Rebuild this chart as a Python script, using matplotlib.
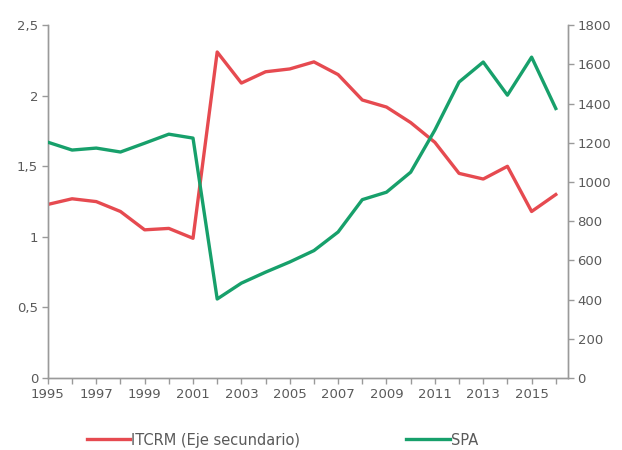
import matplotlib.pyplot as plt
from matplotlib.ticker import FuncFormatter

years = list(range(1995, 2017))
itcrm = [1.23, 1.27, 1.25, 1.18, 1.05, 1.06, 0.99, 2.31, 2.09, 2.17, 2.19, 2.24,
         2.15, 1.97, 1.92, 1.81, 1.67, 1.45, 1.41, 1.50, 1.18, 1.30]
spa = [1203, 1163, 1173, 1153, 1198, 1244, 1224, 403, 484, 540, 592, 650,
       745, 910, 948, 1050, 1265, 1510, 1612, 1443, 1637, 1375]

RED = '#e64a50'
GREEN = '#17a06b'
GRAY = '#5a5a5a'
SPINE = '#9a9a9a'

plt.rcParams['font.family'] = ['DejaVu Sans']

fig = plt.figure(figsize=(6.22, 4.5), dpi=100)
ax = fig.add_axes([0.077, 0.16, 0.836, 0.784])
ax2 = ax.twinx()

l1, = ax.plot(years, itcrm, color=RED, lw=2.4, label='ITCRM (Eje secundario)', zorder=3)
l2, = ax2.plot(years, spa, color=GREEN, lw=2.4, label='SPA', zorder=3)

ax.set_xlim(1995, 2016.5)
ax.set_ylim(0, 2.5)
ax2.set_ylim(0, 1800)
ax.set_yticks([0, 0.5, 1, 1.5, 2, 2.5])
ax2.set_yticks(range(0, 1801, 200))
ax.set_xticks(years)
ax.set_xticklabels([str(y) if (y - 1995) % 2 == 0 else '' for y in years])


def comma_fmt(v, pos):
    s = f'{v:g}'
    return s.replace('.', ',')


ax.yaxis.set_major_formatter(FuncFormatter(comma_fmt))

for a in (ax, ax2):
    a.spines['top'].set_visible(False)
    for s in ('left', 'right', 'bottom'):
        a.spines[s].set_color(SPINE)
        a.spines[s].set_linewidth(1.0)
    a.tick_params(colors=SPINE, labelcolor=GRAY, labelsize=9.5, length=4, width=1)

ax.tick_params(axis='x', pad=3)
ax.tick_params(axis='y', pad=3)
ax2.tick_params(axis='y', pad=3)

fig.legend([l1, l2], ['ITCRM (Eje secundario)', 'SPA'], loc='center',
           bbox_to_anchor=(0.454, 0.022), ncol=2, frameon=False, fontsize=10.5,
           handlelength=2.95, columnspacing=7.3, handletextpad=0.1,
           labelcolor=GRAY)

fig.savefig('out.png', dpi=100)
